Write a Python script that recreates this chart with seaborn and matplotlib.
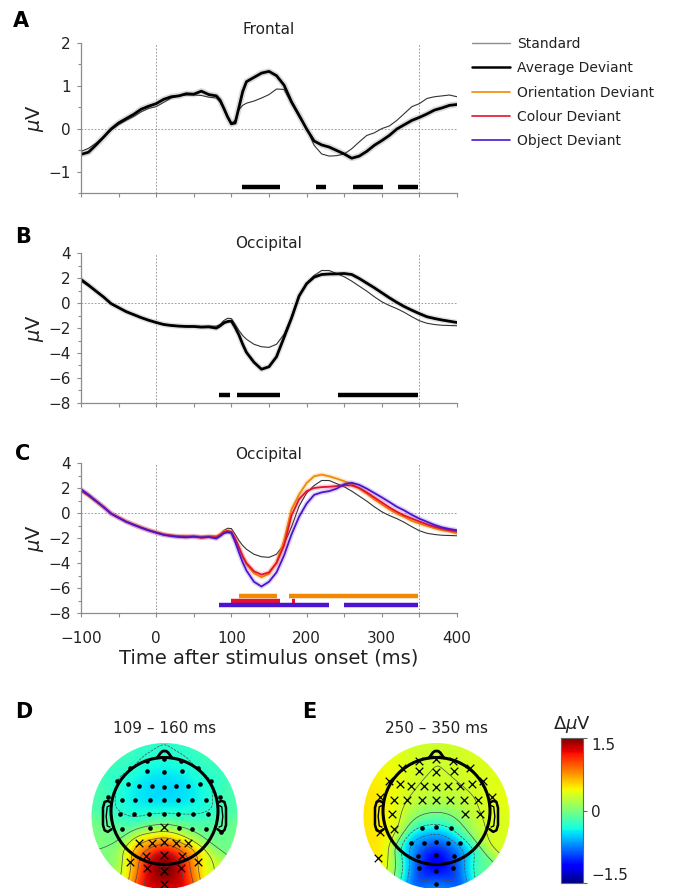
import numpy as np
import pandas as pd
import matplotlib
matplotlib.use("Agg")
import matplotlib.pyplot as plt
import seaborn as sns
from matplotlib.patches import Circle
from matplotlib.lines import Line2D
from matplotlib.cm import ScalarMappable
from matplotlib.colors import Normalize

# ---------------- data ----------------
times = [-100, -90, -80, -70, -60, -50, -40, -30, -20, -10, 0, 10, 20, 30, 40, 50, 60, 70, 80,
         85, 90, 95, 100, 105, 110, 115, 120,
         130, 140, 150, 160, 170, 180, 190, 200, 210, 220, 230, 240, 250, 260, 270, 280, 290,
         300, 310, 320, 330, 340, 350, 360, 370, 380, 390, 400]

frontal_standard = [-0.52, -0.45, -0.33, -0.18, -0.03, 0.10, 0.20, 0.29, 0.40, 0.48,
                    0.52, 0.62, 0.72, 0.77, 0.79, 0.79, 0.78, 0.74, 0.72,
                    0.62, 0.45, 0.27, 0.14, 0.20, 0.45, 0.55, 0.60,
                    0.65, 0.72, 0.80, 0.93, 0.92, 0.59, 0.28, 0.02, -0.38, -0.58, -0.63, -0.62, -0.58,
                    -0.46, -0.30, -0.15, -0.09, 0.01, 0.07, 0.20, 0.36, 0.52, 0.59, 0.71, 0.75, 0.77,
                    0.79, 0.75]
frontal_deviant = [-0.59, -0.54, -0.37, -0.19, 0.00, 0.14, 0.24, 0.34, 0.46, 0.53,
                   0.59, 0.69, 0.75, 0.77, 0.82, 0.81, 0.88, 0.80, 0.77,
                   0.67, 0.48, 0.28, 0.12, 0.14, 0.50, 0.87, 1.10,
                   1.20, 1.30, 1.34, 1.24, 1.02, 0.63, 0.32, 0.00, -0.28, -0.37, -0.42, -0.50, -0.58,
                   -0.68, -0.63, -0.52, -0.38, -0.27, -0.15, 0.00, 0.10, 0.20, 0.27, 0.35, 0.44, 0.49,
                   0.55, 0.57]
occ_standard = [1.75, 1.35, 0.90, 0.45, -0.05, -0.37, -0.68, -0.93, -1.17, -1.38,
                -1.55, -1.70, -1.77, -1.83, -1.85, -1.85, -1.87, -1.85, -1.85,
                -1.72, -1.40, -1.22, -1.25, -1.70, -2.20, -2.60, -2.90,
                -3.30, -3.50, -3.55, -3.30, -2.50, -1.10, 0.55, 1.60, 2.20, 2.60, 2.60, 2.35, 2.10,
                1.75, 1.35, 0.95, 0.50, 0.10, -0.20, -0.45, -0.75, -1.10, -1.42, -1.62, -1.72,
                -1.78, -1.80, -1.82]
occ_deviant = [1.88, 1.43, 0.95, 0.48, -0.05, -0.37, -0.69, -0.93, -1.17, -1.38,
               -1.56, -1.72, -1.80, -1.85, -1.88, -1.88, -1.93, -1.91, -2.01,
               -1.83, -1.59, -1.48, -1.45, -1.95, -2.55, -3.30, -3.95,
               -4.74, -5.30, -5.10, -4.30, -2.75, -1.20, 0.56, 1.54, 2.07, 2.28, 2.32, 2.33, 2.36,
               2.28, 1.96, 1.59, 1.22, 0.82, 0.42, 0.05, -0.29, -0.58, -0.85, -1.10, -1.24,
               -1.36, -1.46, -1.56]
occ_orientation = [1.85, 1.42, 0.95, 0.47, -0.03, -0.35, -0.67, -0.92, -1.15, -1.36,
                   -1.53, -1.70, -1.80, -1.85, -1.83, -1.85, -1.92, -1.85, -1.88,
                   -1.70, -1.45, -1.40, -1.56, -2.10, -2.75, -3.50, -4.10,
                   -4.82, -5.14, -4.87, -3.95, -2.20, 0.30, 1.48, 2.40, 2.94, 3.07, 2.94, 2.75, 2.54,
                   2.33, 1.96, 1.54, 1.09, 0.69, 0.29, -0.05, -0.32, -0.64, -0.85, -1.03, -1.22,
                   -1.38, -1.48, -1.64]
occ_colour = [1.85, 1.43, 0.95, 0.48, -0.04, -0.37, -0.69, -0.93, -1.17, -1.38,
              -1.56, -1.73, -1.82, -1.87, -1.90, -1.88, -1.98, -1.92, -1.95,
              -1.78, -1.55, -1.45, -1.50, -2.05, -2.75, -3.45, -4.00,
              -4.66, -4.93, -4.75, -4.00, -2.60, -0.20, 1.10, 1.75, 2.00, 2.07, 2.10, 2.15, 2.22,
              2.20, 2.00, 1.65, 1.25, 0.85, 0.45, 0.10, -0.20, -0.45, -0.68, -0.90, -1.10,
              -1.25, -1.38, -1.48]
occ_object = [1.90, 1.46, 0.97, 0.48, -0.05, -0.38, -0.70, -0.95, -1.18, -1.40,
              -1.58, -1.75, -1.85, -1.92, -1.95, -1.90, -1.95, -1.92, -2.05,
              -1.85, -1.62, -1.55, -1.60, -2.30, -3.15, -3.95, -4.60,
              -5.50, -5.88, -5.50, -4.75, -3.40, -1.70, -0.30, 0.75, 1.45, 1.65, 1.75, 1.95, 2.30,
              2.42, 2.25, 1.95, 1.60, 1.25, 0.88, 0.50, 0.20, -0.15, -0.45, -0.70, -0.95,
              -1.15, -1.28, -1.38]

# significance intervals (ms) and the level at which they are drawn
sig_frontal = [(114, 164), (212, 226), (262, 301), (322, 348)]
sig_frontal_y = -1.36
sig_occ = [(83, 98), (107, 164), (242, 348)]
sig_occ_y = -7.39
sig_orientation = [(110, 160), (176, 348)]
sig_orientation_y = -6.65
sig_colour = [(99, 164), (180, 184)]
sig_colour_y = -7.02
sig_object = [(83, 230), (250, 348)]
sig_object_y = -7.39

series_labels = ["Standard", "Average Deviant", "Orientation Deviant",
                 "Colour Deviant", "Object Deviant"]

# electrode layout (read in a 3x zoom, head centre (230, 219), head radius 160)
elec_px = [(178, 68), (228, 62), (280, 68), (128, 90), (330, 90),
           (178, 100), (228, 103), (282, 100),
           (88, 128), (370, 128),
           (122, 138), (155, 143), (192, 145), (228, 147), (265, 145), (300, 143), (336, 138),
           (62, 176), (395, 176),
           (102, 185), (143, 186), (187, 186), (228, 187), (270, 186), (313, 186), (355, 185),
           (97, 229), (140, 229), (185, 229), (228, 229), (270, 229), (315, 229), (360, 229),
           (102, 272), (187, 270), (228, 268), (272, 270), (313, 272), (355, 272), (400, 282), (60, 282),
           (155, 316), (192, 314), (228, 313), (265, 314), (300, 316),
           (128, 372), (175, 355), (228, 352), (283, 355), (330, 372),
           (178, 390), (228, 398), (280, 390), (228, 437), (55, 360)]

topoD_values = [-0.25, -0.30, -0.25, -0.20, -0.20,
                -0.45, -0.45, -0.45,
                -0.25, -0.25,
                -0.40, -0.45, -0.50, -0.50, -0.50, -0.45, -0.40,
                -0.15, -0.15,
                -0.40, -0.45, -0.50, -0.50, -0.50, -0.45, -0.40,
                -0.30, -0.35, -0.35, -0.35, -0.35, -0.35, -0.30,
                -0.10, -0.05, 0.10, -0.05, -0.10, -0.10, -0.05, 0.00,
                0.35, 0.75, 0.95, 0.75, 0.35,
                0.25, 1.35, 1.80, 1.35, 0.25,
                1.20, 1.85, 1.20, 1.10, 0.00]
topoE_values = [0.30, 0.30, 0.30, 0.40, 0.35,
                0.30, 0.30, 0.30,
                0.45, 0.35,
                0.40, 0.30, 0.30, 0.30, 0.30, 0.30, 0.35,
                0.50, 0.40,
                0.45, 0.30, 0.25, 0.20, 0.20, 0.25, 0.30,
                0.50, 0.15, 0.05, 0.00, 0.05, 0.20, 0.35,
                0.40, -0.35, -0.45, -0.35, 0.10, 0.30, 0.35, 0.50,
                -0.45, -0.80, -0.90, -0.80, -0.45,
                0.10, -1.10, -1.45, -1.10, -0.05,
                -1.00, -1.25, -1.00, -0.55, 0.50]
topoD_marks = "ooooo" "ooo" "oo" "ooooooo" "oo" "ooooooo" "ooooooo" "ooxoooo-" "xxxxx" "xxxxx" "xxxx-"
topoE_marks = "xxxxx" "xxx" "xx" "xxxxxxx" "xx" "xxxxxxx" "x----xx" "xooo---x" "ooooo" "-ooo-" "oooox"
topoD_title = "109 – 160 ms"
topoE_title = "250 – 350 ms"
cbar_ticks = [-1.5, 0, 1.5]
cbar_labels = ["−1.5", "0", "1.5"]

# ---------------- style ----------------
sns.set_style("ticks")
plt.rcParams["font.family"] = ["DejaVu Sans"]
plt.rcParams["axes.unicode_minus"] = True

W, H = 674, 888
fig = plt.figure(figsize=(W / 100, H / 100), dpi=100)

C_STD = "#333333"
C_ORI = "#F08A00"
C_COL = "#E8102A"
C_OBJ = "#4B14D2"
TXT = "#222222"


def px_rect(x0, y0, x1, y1):
    return [x0 / W, 1 - y1 / H, (x1 - x0) / W, (y1 - y0) / H]


def style_axis(ax, ylim, yticks, yminor, xlabels):
    ax.set_xlim(-100, 400)
    ax.set_ylim(*ylim)
    ax.set_xticks(range(-100, 401, 100))
    ax.set_xticks(range(-50, 401, 100), minor=True)
    ax.set_yticks(yticks)
    ax.set_yticks(yminor, minor=True)
    for s in ["top", "right"]:
        ax.spines[s].set_visible(False)
    for s in ["left", "bottom"]:
        ax.spines[s].set_color("0.55")
        ax.spines[s].set_linewidth(0.9)
    ax.tick_params(which="both", direction="out", color="0.55", width=0.8)
    ax.tick_params(axis="y", which="major", length=3, pad=4.5, labelsize=11, labelcolor=TXT)
    ax.tick_params(axis="y", which="minor", length=2)
    ax.tick_params(axis="x", which="both", length=3, pad=10, labelsize=11, labelcolor=TXT)
    if not xlabels:
        ax.set_xticklabels([])
    for xv in (0, 350):
        ax.axvline(xv, color="0.55", lw=0.6, ls=(0, (2, 2)), zorder=0)
    ax.axhline(0, color="0.55", lw=0.6, ls=(0, (2, 2)), zorder=0)
    ax.set_xlabel("")
    ax.set_ylabel(r"$\mu$V", fontsize=14, color=TXT)
    ax.yaxis.set_label_coords(-0.092, 0.5)


def sig_bars(ax, intervals, yv, color):
    for a, b in intervals:
        ax.hlines(yv, a, b, colors=color, lw=3.2, capstyle="butt")


# Panel A
axA = fig.add_axes(px_rect(81, 43, 457, 193.5))
sns.lineplot(x=times, y=frontal_deviant, ax=axA, color="0.80", lw=4.5, alpha=0.7)
sns.lineplot(x=times, y=frontal_standard, ax=axA, color=C_STD, lw=0.8)
sns.lineplot(x=times, y=frontal_deviant, ax=axA, color="black", lw=2.0)
sig_bars(axA, sig_frontal, sig_frontal_y, "black")
style_axis(axA, (-1.5, 2), [-1, 0, 1, 2], [-1.5, -0.5, 0.5, 1.5], False)

# Panel B
axB = fig.add_axes(px_rect(81, 253, 457, 403))
sns.lineplot(x=times, y=occ_deviant, ax=axB, color="0.80", lw=4.0, alpha=0.6)
sns.lineplot(x=times, y=occ_standard, ax=axB, color=C_STD, lw=0.8)
sns.lineplot(x=times, y=occ_deviant, ax=axB, color="black", lw=2.0)
sig_bars(axB, sig_occ, sig_occ_y, "black")
style_axis(axB, (-8, 4), [-8, -6, -4, -2, 0, 2, 4], [-7, -5, -3, -1, 1, 3], False)

# Panel C
axC = fig.add_axes(px_rect(81, 463, 457, 613))
sns.lineplot(x=times, y=occ_standard, ax=axC, color=C_STD, lw=0.8)
for vals, col in [(occ_orientation, C_ORI), (occ_colour, C_COL), (occ_object, C_OBJ)]:
    sns.lineplot(x=times, y=vals, ax=axC, color=col, lw=3.5, alpha=0.18)
    sns.lineplot(x=times, y=vals, ax=axC, color=col, lw=1.3)
sig_bars(axC, sig_orientation, sig_orientation_y, C_ORI)
sig_bars(axC, sig_colour, sig_colour_y, C_COL)
sig_bars(axC, sig_object, sig_object_y, C_OBJ)
style_axis(axC, (-8, 4), [-8, -6, -4, -2, 0, 2, 4], [-7, -5, -3, -1, 1, 3], True)

fig.text(269 / W, 1 - 663 / H, "Time after stimulus onset (ms)", ha="center",
         va="baseline", fontsize=14, color=TXT)

for yb, title in [(34, "Frontal"), (248, "Occipital"), (459, "Occipital")]:
    fig.text(269 / W, 1 - yb / H, title, ha="center", va="baseline", fontsize=11, color=TXT)

for (xl, yb, letter) in [(13, 27, "A"), (15, 243, "B"), (15, 460, "C"), (15, 718, "D"), (302, 718, "E")]:
    fig.text(xl / W, 1 - yb / H, letter, ha="left", va="baseline", fontsize=15,
             fontweight="bold", color="black")

# Legend
handles = [Line2D([], [], color="0.55", lw=1.0),
           Line2D([], [], color="black", lw=1.8),
           Line2D([], [], color=C_ORI, lw=1.2),
           Line2D([], [], color=C_COL, lw=1.2),
           Line2D([], [], color=C_OBJ, lw=1.2)]
fig.legend(handles, series_labels, loc="upper left", bbox_to_anchor=(472 / W, 1 - 37 / H),
           frameon=False, fontsize=10, handlelength=2.75, handletextpad=0.5,
           labelspacing=0.74, borderpad=0, borderaxespad=0, labelcolor=TXT)

# ---------------- topographies ----------------
HEAD_PX = 53.5
ex = np.array([(p[0] - 230) / 160 for p in elec_px])
ey = np.array([(219 - p[1]) / 160 for p in elec_px])
disc_r = 73 / HEAD_PX
disc_c = (0, -5 / HEAD_PX)
lim = 80 / HEAD_PX
norm = Normalize(-1.5, 1.5)


def smooth_field(vals, gx, gy, s=0.20):
    # Gaussian-weighted (kernel) interpolation of the electrode values
    P = np.c_[ex, ey]
    G = np.c_[gx.ravel(), gy.ravel()]
    dg = ((G[:, None, :] - P[None, :, :]) ** 2).sum(-1)
    K = np.exp(-dg / (2 * s * s)) + 1e-12
    return ((K @ np.asarray(vals)) / K.sum(1)).reshape(gx.shape)


def topo(cx_px, vals, marks, title):
    ax = fig.add_axes(px_rect(cx_px - 80, 811 - 80, cx_px + 80, 811 + 80))
    ax.set_xlim(-lim, lim)
    ax.set_ylim(-lim, lim)
    ax.axis("off")
    g = np.linspace(-lim, lim, 240)
    gx, gy = np.meshgrid(g, g)
    F = smooth_field(vals, gx, gy)
    clip = Circle(disc_c, disc_r, transform=ax.transData)
    im = ax.imshow(F, extent=(-lim, lim, -lim, lim), origin="lower", cmap="jet",
                   norm=norm, interpolation="bilinear", zorder=1)
    im.set_clip_path(clip)
    cs = ax.contour(gx, gy, F, levels=[-1.2, -0.9, -0.6, -0.3, 0.0, 0.3, 0.6, 0.9, 1.2, 1.5],
                    colors="0.3", linewidths=0.5, zorder=2)
    cs.set_clip_path(Circle(disc_c, disc_r, transform=ax.transData))
    # head outline
    ax.add_patch(Circle((0, 0), 1.0, fill=False, lw=2.2, ec="black", zorder=5))
    ax.plot([-0.14, -0.07, -0.03, 0.03, 0.07, 0.14], [0.99, 1.09, 1.12, 1.12, 1.09, 0.99],
            color="black", lw=2.0, zorder=5, solid_joinstyle="round")
    earx = np.array([0.99, 1.06, 1.12, 1.15, 1.15, 1.12, 1.06, 0.99])
    eary = np.array([0.15, 0.19, 0.17, 0.06, -0.26, -0.36, -0.39, -0.34])
    for sgn in (-1, 1):
        ax.plot(sgn * earx, eary, color="black", lw=1.8, zorder=5, solid_joinstyle="round")
        ax.plot(sgn * np.array([1.02, 1.07, 1.09, 1.07, 1.02]),
                np.array([0.10, 0.08, -0.10, -0.28, -0.30]), color="black", lw=1.0, zorder=5)
    m = np.array(list(marks))
    ax.scatter(ex[m == "o"], ey[m == "o"], s=11, c="black", zorder=6, linewidths=0)
    ax.scatter(ex[m == "x"], ey[m == "x"], s=30, c="black", marker="x", linewidths=0.9, zorder=6)
    fig.text(cx_px / W, 1 - 733 / H, title, ha="center", va="baseline", fontsize=11, color=TXT)


topo(164.5, topoD_values, topoD_marks, topoD_title)
topo(436.5, topoE_values, topoE_marks, topoE_title)

cax = fig.add_axes(px_rect(561, 738, 583, 883))
cb = fig.colorbar(ScalarMappable(norm=norm, cmap="jet"), cax=cax, ticks=cbar_ticks)
cb.set_ticklabels(cbar_labels)
cb.outline.set_edgecolor("0.4")
cb.outline.set_linewidth(0.8)
cax.tick_params(length=3, width=0.8, color="0.4", labelsize=11, labelcolor=TXT, pad=3)
tl = cax.get_yticklabels()
tl[0].set_va("bottom")
tl[-1].set_va("top")
fig.text(572 / W, 1 - 729 / H, r"$\Delta\mu$V", ha="center", va="baseline", fontsize=13, color=TXT)

fig.savefig("out.png", dpi=100)
